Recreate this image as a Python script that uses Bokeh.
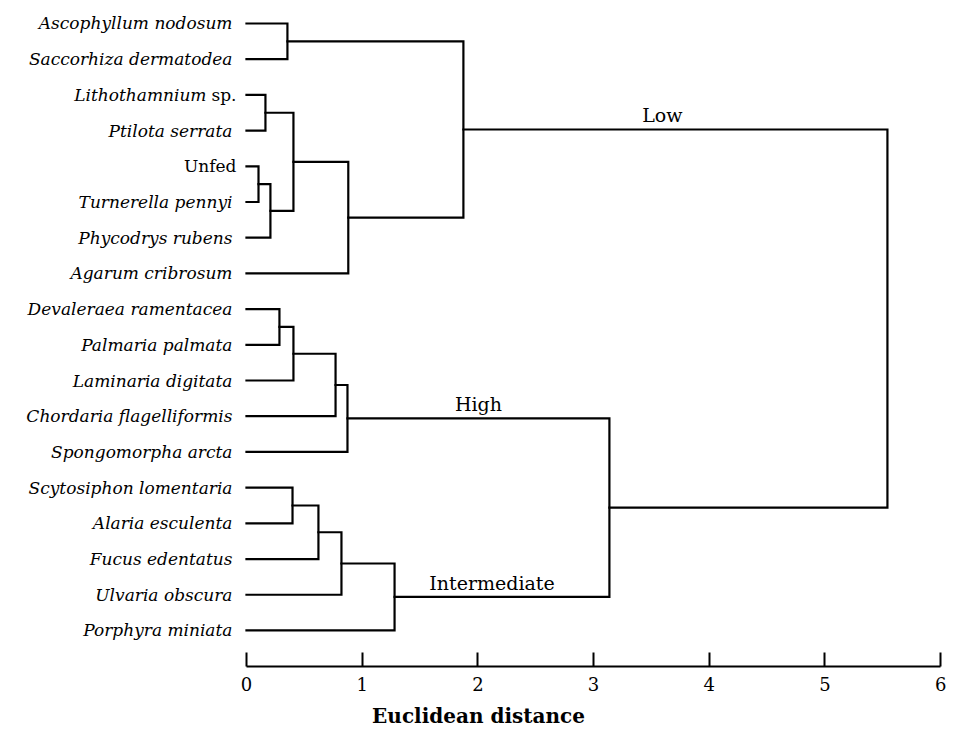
from bokeh.plotting import figure
from bokeh.models import Range1d, FixedTicker, ColumnDataSource
from bokeh.core.properties import value
from bokeh.embed import file_html
from bokeh.resources import INLINE

# ---- data ----
leaves = [
    "Ascophyllum nodosum", "Saccorhiza dermatodea", "Lithothamnium sp.",
    "Ptilota serrata", "Unfed", "Turnerella pennyi", "Phycodrys rubens",
    "Agarum cribrosum", "Devaleraea ramentacea", "Palmaria palmata",
    "Laminaria digitata", "Chordaria flagelliformis", "Spongomorpha arcta",
    "Scytosiphon lomentaria", "Alaria esculenta", "Fucus edentatus",
    "Ulvaria obscura", "Porphyra miniata",
]
# linkage: node ids 0..17 are leaves, new nodes start at 18
merge_a = [0, 2, 4, 20, 19, 22, 18, 8, 25, 26, 27, 13, 29, 30, 31, 28, 24]
merge_b = [1, 3, 5, 6, 21, 7, 23, 9, 10, 11, 12, 14, 15, 16, 17, 32, 33]
merge_h = [0.354, 0.164, 0.104, 0.207, 0.406, 0.88, 1.875, 0.285, 0.406,
           0.77, 0.873, 0.398, 0.622, 0.821, 1.28, 3.137, 5.54]
group_names = ["Low", "High", "Intermediate"]
group_nodes = [24, 28, 32]
x_ticks = [0, 1, 2, 3, 4, 5, 6]

SERIF = "DejaVu Serif"

n = len(leaves)
node_x = {i: 0.0 for i in range(n)}
node_y = {i: float(i) for i in range(n)}
xs, ys = [], []
for k, (a, b, h) in enumerate(zip(merge_a, merge_b, merge_h)):
    nid = n + k
    xs.append([node_x[a], h, h, node_x[b]])
    ys.append([node_y[a], node_y[a], node_y[b], node_y[b]])
    node_x[nid] = h
    node_y[nid] = (node_y[a] + node_y[b]) / 2

parent = {}
for k, (a, b) in enumerate(zip(merge_a, merge_b)):
    parent[a] = n + k
    parent[b] = n + k

p = figure(frame_width=956, frame_height=666, output_backend="svg",
           toolbar_location=None, min_border=0, min_border_bottom=70,
           x_range=Range1d(-2.126, 6.137), y_range=Range1d(18.01, -0.644))
p.outline_line_color = None
p.background_fill_color = "white"
p.border_fill_color = "white"
p.grid.visible = False
p.yaxis.visible = False

p.multi_line(xs=xs, ys=ys, line_color="black", line_width=2.2,
             line_join="miter", line_cap="square")

# leaf labels (italic species names; "Unfed" and "sp." upright)
upright = {"Unfed"}
it_t, it_y, it_off = [], [], []
up_t, up_y = [], []
for i, l in enumerate(leaves):
    if l in upright:
        up_t.append(l); up_y.append(i)
    elif l.endswith(" sp."):
        it_t.append(l[:-4]); it_y.append(i); it_off.append(-40)
        up_t.append("sp."); up_y.append(i)
    else:
        it_t.append(l); it_y.append(i); it_off.append(-14)

lab_src_it = ColumnDataSource(dict(x=[0.0] * len(it_t), y=it_y, t=it_t, off=it_off))
p.text(x="x", y="y", text="t", source=lab_src_it, text_align="right",
       text_baseline="middle", x_offset="off",
       text_font=value(SERIF), text_font_style="italic",
       text_font_size="17px", text_color="black")
lab_src_up = ColumnDataSource(dict(x=[0.0] * len(up_t), y=up_y, t=up_t))
p.text(x="x", y="y", text="t", source=lab_src_up, text_align="right",
       text_baseline="middle", x_offset=-10,
       text_font=value(SERIF), text_font_size="17px", text_color="black")

# group labels
gx, gy = [], []
for nid in group_nodes:
    par = parent[nid]
    gx.append((node_x[nid] + node_x[par]) / 2)
    gy.append(node_y[nid])
grp_src = ColumnDataSource(dict(x=gx, y=gy, t=group_names, off=[-13, 0, -10]))
p.text(x="x", y="y", text="t", source=grp_src, text_align="center",
       text_baseline="bottom", y_offset=-3, x_offset="off",
       text_font=value(SERIF), text_font_size="19px", text_color="black")

ax = p.xaxis[0]
ax.ticker = FixedTicker(ticks=x_ticks)
ax.bounds = (0, 6)
ax.axis_line_width = 2
ax.axis_line_color = "black"
ax.major_tick_in = 14
ax.major_tick_out = 0
ax.major_tick_line_width = 2
ax.major_tick_line_color = "black"
ax.minor_tick_line_color = None
ax.major_label_standoff = 10
ax.major_label_text_font = SERIF
ax.major_label_text_font_size = "18px"
ax.major_label_text_color = "black"
ax.axis_label = "Euclidean distance"
ax.axis_label_text_font = SERIF
ax.axis_label_text_font_style = "bold"
ax.axis_label_text_font_size = "20px"
ax.axis_label_text_color = "black"
ax.axis_label_standoff = 10

open("out.html", "w").write(file_html(p, INLINE))
